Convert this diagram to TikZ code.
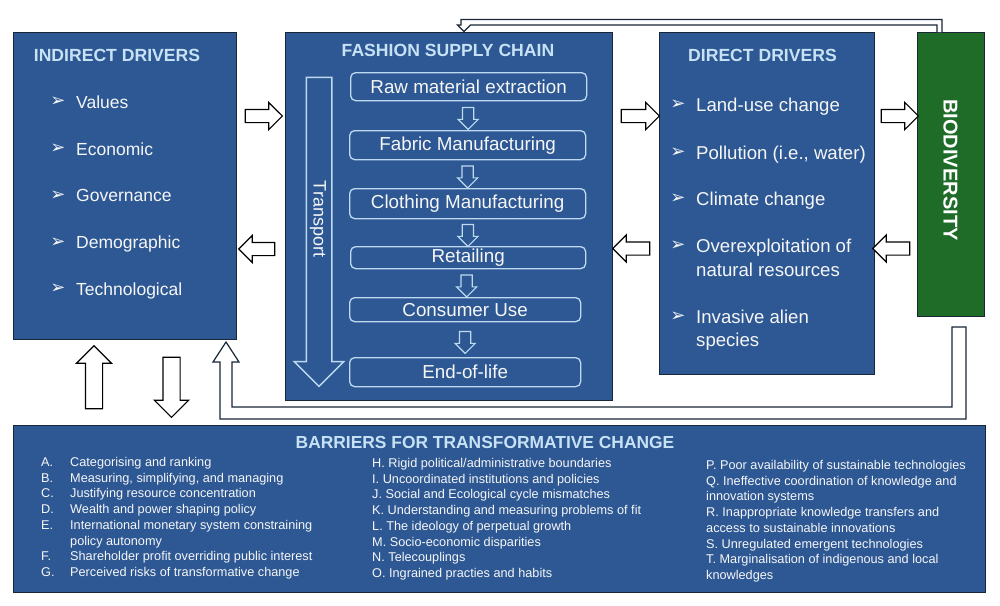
\documentclass[tikz,border=0pt]{standalone}
\usepackage{fontspec}
\setmainfont{Liberation Sans}
\newfontfamily\symf{DejaVu Sans}
\usetikzlibrary{shapes.arrows,calc}
\definecolor{blueF}{RGB}{45,88,148}
\definecolor{bordc}{RGB}{25,38,56}
\definecolor{headc}{RGB}{200,226,245}
\definecolor{lblue}{RGB}{190,218,240}
\definecolor{greenF}{RGB}{30,108,40}
\definecolor{txtc}{RGB}{246,246,246}
\begin{document}
\begin{tikzpicture}[x=1pt,y=-1pt,
  box/.style={draw=bordc, line width=1.3pt, fill=blueF, inner sep=0pt, anchor=north west},
  ttl/.style={text=headc, font=\fontsize{17.6}{20}\selectfont\bfseries, anchor=base, inner sep=0pt},
  bul/.style={text=txtc, font=\fontsize{17.5}{20}\selectfont, anchor=base west, inner sep=0pt},
  dbul/.style={text=txtc, font=\fontsize{18.6}{24}\selectfont, anchor=base west, inner sep=0pt},
  sym/.style={text=txtc, font=\symf\fontsize{18}{20}\selectfont, inner sep=0pt},
  stage/.style={draw=lblue, line width=1.3pt, rounded corners=5pt, text=txtc,
     font=\fontsize{18.8}{22}\selectfont, inner sep=0pt, anchor=north west},
  barrow/.style={single arrow, draw=black, fill=white, line width=1.1pt, inner sep=0pt,
     text depth=0pt, single arrow tip angle=90},
  sarrow/.style={single arrow, draw=lblue, fill=blueF, line width=1.2pt, inner sep=0pt,
     text depth=0pt, single arrow tip angle=90},
  bartxt/.style={text=txtc, font=\fontsize{12.7}{15.7}\selectfont, anchor=base west, inner sep=0pt}
]
\fill[white] (0,0) rectangle (1000,605);
\useasboundingbox (0,0) rectangle (1000,605);

% ---------- main boxes ----------
\node[box, minimum width=223pt, minimum height=307pt] (ind) at (13,32) {};
\node[box, minimum width=327pt, minimum height=368pt] (fsc) at (285,32) {};
\node[box, minimum width=215pt, minimum height=342pt] (dir) at (659,32) {};
\node[box, fill=greenF, minimum width=67pt, minimum height=284pt] (bio) at (917,32) {};
\node[box, minimum width=972pt, minimum height=167pt] (bar) at (13,425) {};

% ---------- indirect drivers ----------
\node[ttl] (indt) at (117,61.5) {INDIRECT DRIVERS};
\foreach \t [count=\i] in {Values,Economic,Governance,Demographic,Technological}{
  \pgfmathsetmacro{\yc}{102+46.75*(\i-1)}
  \node[sym] (ib\i) at (58,\yc) {➢};
  \node[bul] (it\i) at (76,\yc+6.3) {\t};
}

% ---------- fashion supply chain ----------
\node[ttl] (fsct) at (448,56.5) {FASHION SUPPLY CHAIN};
\node[sarrow, text height=24pt, minimum height=309pt, single arrow head extend=12pt,
      line width=1.5pt, rotate=-90] (tr) at (319,225.5) {};
\node[text=txtc, font=\fontsize{18}{20}\selectfont, rotate=-90, inner sep=0pt] (trt) at (318,219) {Transport};
\node[stage, minimum width=236pt, minimum height=28pt] (s1) at (350,72) {Raw material extraction};
\node[stage, minimum width=236pt, minimum height=29pt] (s2) at (349,130) {Fabric Manufacturing};
\node[stage, minimum width=236pt, minimum height=30pt] (s3) at (349,188) {Clothing Manufacturing};
\node[stage, minimum width=235pt, minimum height=22pt] (s4) at (350,246) {Retailing};
\node[stage, minimum width=231pt, minimum height=24pt] (s5) at (349,297) {Consumer Use};
\node[stage, minimum width=231pt, minimum height=29pt] (s6) at (349,357) {End-of-life};
\foreach \a/\b in {s1/s2,s2/s3,s3/s4,s4/s5,s5/s6}{
  \node[sarrow, text height=10pt, minimum height=22pt, single arrow head extend=4.5pt, rotate=-90]
     (a\a) at ($(\a.south)!0.5!(\b.north)$) {};
}

% ---------- direct drivers ----------
\node[ttl] (dirt) at (762.5,61.5) {DIRECT DRIVERS};
\node[sym] (db1) at (678,105) {➢};
\node[dbul] (dt1) at (696,111.7) {Land-use change};
\node[sym] (db2) at (678,153) {➢};
\node[dbul] (dt2) at (696,159.7) {Pollution (i.e., water)};
\node[sym] (db3) at (678,199) {➢};
\node[dbul] (dt3) at (696,205.7) {Climate change};
\node[sym] (db4) at (678,246) {➢};
\node[dbul] (dt4) at (696,252.7) {\parbox[t]{175pt}{Overexploitation of\\natural resources}};
\node[sym] (db5) at (678,317) {➢};
\node[dbul, font=\fontsize{18.6}{23}\selectfont] (dt5) at (696,323.7) {\parbox[t]{175pt}{Invasive alien\\species}};

% ---------- biodiversity ----------
\node[text=white, font=\fontsize{20}{22}\selectfont\bfseries, rotate=-90, inner sep=0pt] (biot) at (950.5,170) {BIODIVERSITY};

% ---------- block arrows between boxes ----------
\node[barrow, text height=12pt, minimum height=37pt, single arrow head extend=7pt] (r1) at (260.5,116) {};
\node[barrow, text height=12pt, minimum height=36pt, single arrow head extend=7pt, rotate=180] (l1) at (260,249) {};
\node[barrow, text height=12pt, minimum height=38pt, single arrow head extend=7pt] (r2) at (637,116) {};
\node[barrow, text height=12pt, minimum height=37pt, single arrow head extend=7pt, rotate=180] (l2) at (634.5,248.5) {};
\node[barrow, text height=12pt, minimum height=37pt, single arrow head extend=7pt] (r3) at (896.5,116) {};
\node[barrow, text height=12pt, minimum height=37pt, single arrow head extend=7pt, rotate=180] (l3) at (894.5,248.5) {};
\node[barrow, text height=16pt, minimum height=63pt, single arrow head extend=9pt, rotate=90] (up) at (94,381.5) {};
\node[barrow, text height=16pt, minimum height=60pt, single arrow head extend=8.5pt, rotate=-90] (dn) at (171.5,383) {};

% ---------- feedback arrows ----------
\draw[fill=white, draw=bordc, line width=1.2pt, line join=miter]
  (966,327) -- (966,419) -- (220,419) -- (220,362) -- (213,362) -- (226,342)
  -- (239,362) -- (232,362) -- (232,407) -- (952,407) -- (952,327) -- cycle;
\draw[fill=white, draw=bordc, line width=1.2pt, line join=miter]
  (942,32) -- (942,19.5) -- (461,19.5) -- (461,25) -- (457.5,25) -- (464,31.5)
  -- (470.5,25) -- (937,25) -- (937,32);

% ---------- barriers ----------
\node[ttl, font=\fontsize{17.4}{20}\selectfont\bfseries] (bart) at (485,448.5) {BARRIERS FOR TRANSFORMATIVE CHANGE};
\node[bartxt] (bc1) at (41,466.5) {\begin{tabular}[t]{@{}p{29pt}@{}l@{}}
A. & Categorising and ranking\\
B. & Measuring, simplifying, and managing\\
C. & Justifying resource concentration\\
D. & Wealth and power shaping policy\\
E. & International monetary system constraining\\
   & policy autonomy\\
F. & Shareholder profit overriding public interest\\
G. & Perceived risks of transformative change
\end{tabular}};
\node[bartxt] (bc2) at (372,467.5) {\begin{tabular}[t]{@{}l@{}}
H. Rigid political/administrative boundaries\\
I. Uncoordinated institutions and policies\\
J. Social and Ecological cycle mismatches\\
K. Understanding and measuring problems of fit\\
L. The ideology of perpetual growth\\
M. Socio-economic disparities\\
N. Telecouplings\\
O. Ingrained practies and habits
\end{tabular}};
\node[bartxt] (bc3) at (706,469.5) {\begin{tabular}[t]{@{}l@{}}
P. Poor availability of sustainable technologies\\
Q. Ineffective coordination of knowledge and\\
innovation systems\\
R. Inappropriate knowledge transfers and\\
access to sustainable innovations\\
S. Unregulated emergent technologies\\
T. Marginalisation of indigenous and local\\
knowledges
\end{tabular}};
\end{tikzpicture}
\end{document}
